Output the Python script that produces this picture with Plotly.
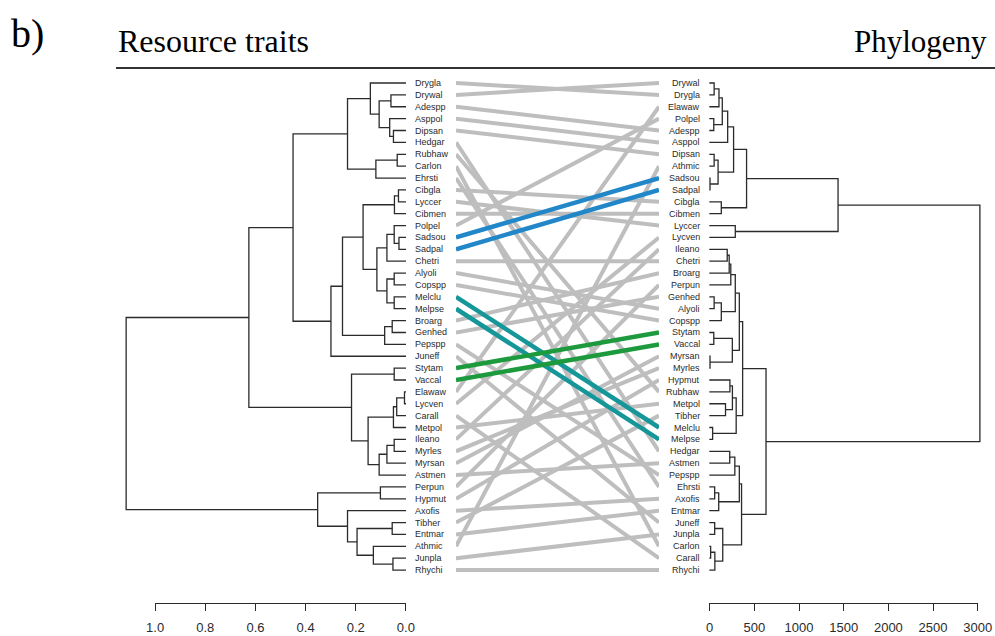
import plotly.graph_objects as go

W, H = 995, 636
# horizontal placement: the drawing area starts at OX and is FIG_W pixels wide
OX, FIG_W = 8, 972

# Tip order of each tree (top to bottom)
LEFT_ORDER = [
    "Drygla", "Drywal", "Adespp", "Asppol", "Dipsan", "Hedgar", "Rubhaw", "Carlon",
    "Ehrsti", "Cibgla", "Lyccer", "Cibmen", "Polpel", "Sadsou", "Sadpal", "Chetri",
    "Alyoli", "Copspp", "Melclu", "Melpse", "Broarg", "Genhed", "Pepspp", "Juneff",
    "Stytam", "Vaccal", "Elawaw", "Lycven", "Carall", "Metpol", "Ileano", "Myrles",
    "Myrsan", "Astmen", "Perpun", "Hypmut", "Axofis", "Tibher", "Entmar", "Athmic",
    "Junpla", "Rhychi",
]
RIGHT_ORDER = [
    "Drywal", "Drygla", "Elawaw", "Polpel", "Adespp", "Asppol", "Dipsan", "Athmic",
    "Sadsou", "Sadpal", "Cibgla", "Cibmen", "Lyccer", "Lycven", "Ileano", "Chetri",
    "Broarg", "Perpun", "Genhed", "Alyoli", "Copspp", "Stytam", "Vaccal", "Myrsan",
    "Myrles", "Hypmut", "Rubhaw", "Metpol", "Tibher", "Melclu", "Melpse", "Hedgar",
    "Astmen", "Pepspp", "Ehrsti", "Axofis", "Entmar", "Juneff", "Junpla", "Carlon",
    "Carall", "Rhychi",
]

# Merge lists: (child a, child b, height); integers refer to earlier merges
LEFT_MERGES = [
    ("Dipsan", "Hedgar", 0.050), ("Asppol", 0, 0.065), ("Drywal", "Adespp", 0.060),
    (2, 1, 0.107), ("Drygla", 3, 0.142), ("Rubhaw", "Carlon", 0.035), (5, "Ehrsti", 0.120),
    (4, 6, 0.233), ("Cibgla", "Lyccer", 0.030), (8, "Cibmen", 0.046),
    ("Sadsou", "Sadpal", 0.028), ("Polpel", 10, 0.047), (11, "Chetri", 0.076),
    ("Alyoli", "Copspp", 0.047), ("Melclu", "Melpse", 0.047), (13, 14, 0.076),
    (12, 15, 0.116), (9, 16, 0.171), ("Broarg", "Genhed", 0.055), (18, "Pepspp", 0.085),
    (17, 19, 0.253), (20, "Juneff", 0.299), (7, 21, 0.450), ("Stytam", "Vaccal", 0.047),
    ("Elawaw", "Lycven", 0.006), (24, "Carall", 0.037), (25, "Metpol", 0.050),
    ("Ileano", "Myrles", 0.047), (27, "Myrsan", 0.076), (28, "Astmen", 0.107),
    (26, 29, 0.151), (23, 30, 0.217), (22, 31, 0.626), ("Perpun", "Hypmut", 0.102),
    ("Tibher", "Entmar", 0.055), ("Junpla", "Rhychi", 0.052), ("Athmic", 35, 0.130),
    (34, 36, 0.195), ("Axofis", 37, 0.233), (33, 38, 0.352), (32, 39, 1.115),
]
RIGHT_MERGES = [
    ("Drywal", "Drygla", 54), (0, "Elawaw", 108), ("Polpel", "Adespp", 50), (1, 2, 145),
    (3, "Asppol", 205), ("Dipsan", "Athmic", 54), ("Sadsou", "Sadpal", 8), (5, 6, 98),
    (4, 7, 271), ("Cibgla", "Cibmen", 134), (8, 9, 416), ("Lyccer", "Lycven", 290),
    (10, 11, 1437), ("Ileano", "Chetri", 200), (13, "Broarg", 222), (14, "Perpun", 240),
    ("Genhed", "Alyoli", 54), (16, "Copspp", 134), (15, 17, 290), ("Stytam", "Vaccal", 50),
    ("Myrsan", "Myrles", 8), (19, 20, 257), (18, 21, 335), ("Hypmut", "Rubhaw", 230),
    ("Metpol", "Tibher", 181), (23, 24, 258), ("Melclu", "Melpse", 37), (25, 26, 300),
    (22, 27, 372), ("Hedgar", "Astmen", 228), (29, "Pepspp", 285), ("Ehrsti", "Axofis", 60),
    (31, "Entmar", 105), (30, 32, 335), ("Juneff", "Junpla", 60), ("Carlon", "Carall", 15),
    (35, "Rhychi", 62), (34, 36, 150), (33, 37, 360), (28, 38, 633), (12, 39, 3020),
]

# Shared clades highlighted in the connecting lines
HIGHLIGHT = {
    "Sadsou": "#2187c9", "Sadpal": "#2187c9",
    "Melclu": "#15979a", "Melpse": "#15979a",
    "Stytam": "#1e9a3e", "Vaccal": "#1e9a3e",
}

LEFT_TICKS = [1.0, 0.8, 0.6, 0.4, 0.2, 0.0]
RIGHT_TICKS = [0, 500, 1000, 1500, 2000, 2500, 3000]

INK = "#2b2b2b"
GRAY = "#bebebe"
SANS = "Liberation Sans, Arial, sans-serif"
SERIF = "Liberation Serif, Times New Roman, serif"

# pixel scales of the two dendrograms
L_ZERO, L_PER_UNIT = 405.0, 251.0      # resource-trait distance
R_ZERO, R_PER_UNIT = 708.3, 0.0896     # phylogenetic distance
ROW0, ROW_STEP = 83.0, 11.88           # tip rows


def px(x):
    return (x - OX) / FIG_W


def py(y):
    return 1 - y / H


def dendro_path(order, merges):
    leaves = {name: (0.0, float(i)) for i, name in enumerate(order)}
    nodes, xs, ys = [], [], []
    for a, b, h in merges:
        pa = nodes[a] if isinstance(a, int) else leaves[a]
        pb = nodes[b] if isinstance(b, int) else leaves[b]
        xs += [pa[0], h, h, pb[0], None]
        ys += [pa[1], pa[1], pb[1], pb[1], None]
        nodes.append((h, (pa[1] + pb[1]) / 2))
    return xs, ys


fig = go.Figure()

# connecting lines: gray first, highlighted clades on top
gx, gy = [], []
for i, name in enumerate(LEFT_ORDER):
    if name in HIGHLIGHT:
        continue
    gx += [0, 1, None]
    gy += [i, RIGHT_ORDER.index(name), None]
fig.add_trace(go.Scatter(x=gx, y=gy, mode="lines", xaxis="x3", yaxis="y",
                         line=dict(color=GRAY, width=4), hoverinfo="skip"))
for i, name in enumerate(LEFT_ORDER):
    if name in HIGHLIGHT:
        fig.add_trace(go.Scatter(x=[0, 1], y=[i, RIGHT_ORDER.index(name)], mode="lines",
                                 xaxis="x3", yaxis="y",
                                 line=dict(color=HIGHLIGHT[name], width=4.5),
                                 hoverinfo="skip"))

lx, ly = dendro_path(LEFT_ORDER, LEFT_MERGES)
fig.add_trace(go.Scatter(x=lx, y=ly, mode="lines", xaxis="x", yaxis="y",
                         line=dict(color=INK, width=1.3), hoverinfo="skip"))
rx, ry = dendro_path(RIGHT_ORDER, RIGHT_MERGES)
fig.add_trace(go.Scatter(x=rx, y=ry, mode="lines", xaxis="x2", yaxis="y",
                         line=dict(color=INK, width=1.3), hoverinfo="skip"))

# carriers for the two scale axes
fig.add_trace(go.Scatter(x=[LEFT_TICKS[0], LEFT_TICKS[-1]], y=[0, 0], xaxis="x4", yaxis="y",
                         mode="markers", marker=dict(opacity=0), hoverinfo="skip"))
fig.add_trace(go.Scatter(x=[RIGHT_TICKS[0], RIGHT_TICKS[-1]], y=[0, 0], xaxis="x5", yaxis="y",
                         mode="markers", marker=dict(opacity=0), hoverinfo="skip"))

annotations = []
for i, name in enumerate(LEFT_ORDER):
    annotations.append(dict(x=0, y=i, xref="x", yref="y", text=name, showarrow=False,
                            xanchor="left", yanchor="middle", xshift=7,
                            font=dict(family=SANS, size=9, color=INK)))
for i, name in enumerate(RIGHT_ORDER):
    annotations.append(dict(x=0, y=i, xref="x2", yref="y", text=name, showarrow=False,
                            xanchor="right", yanchor="middle", xshift=-7,
                            font=dict(family=SANS, size=9, color=INK)))
annotations += [
    dict(x=px(8), y=py(34), xref="paper", yref="paper", text="b)", showarrow=False,
         xanchor="left", yanchor="middle", font=dict(family=SERIF, size=40, color="black")),
    dict(x=px(115), y=py(41), xref="paper", yref="paper", text="Resource traits",
         showarrow=False, xanchor="left", yanchor="middle",
         font=dict(family=SERIF, size=32, color="black")),
    dict(x=px(988), y=py(41), xref="paper", yref="paper", text="Phylogeny",
         showarrow=False, xanchor="right", yanchor="middle",
         font=dict(family=SERIF, size=31, color="black")),
]

hidden = dict(visible=False, showgrid=False, zeroline=False)
scale_axis = dict(showline=True, linecolor=INK, linewidth=1, ticks="outside", ticklen=7,
                  tickwidth=1, tickcolor=INK, showgrid=False, zeroline=False,
                  anchor="free", position=py(603), ticklabelstandoff=5,
                  ticklabeloverflow="allow",
                  tickfont=dict(family=SANS, size=13, color=INK))

right_end = OX + FIG_W
fig.update_layout(
    width=W, height=H, margin=dict(l=0, r=0, t=0, b=0),
    paper_bgcolor="white", plot_bgcolor="rgba(0,0,0,0)", showlegend=False,
    xaxis=dict(domain=[px(118), px(L_ZERO)], range=[(L_ZERO - 118) / L_PER_UNIT, 0],
               **hidden),
    xaxis2=dict(domain=[px(700), 1],
                range=[(700 - R_ZERO) / R_PER_UNIT, (right_end - R_ZERO) / R_PER_UNIT],
                **hidden),
    xaxis3=dict(domain=[px(455), px(658)], range=[0, 1], **hidden),
    xaxis4=dict(domain=[px(L_ZERO - L_PER_UNIT), px(L_ZERO)], range=[1.0005, -0.0005],
                tickvals=LEFT_TICKS, ticktext=[f"{t:.1f}" for t in LEFT_TICKS], **scale_axis),
    xaxis5=dict(domain=[px(R_ZERO), px(R_ZERO + 3000 * R_PER_UNIT)], range=[-4, 3004],
                tickvals=RIGHT_TICKS, ticktext=[str(t) for t in RIGHT_TICKS], **scale_axis),
    yaxis=dict(domain=[py(600), py(50)],
               range=[(600 - ROW0) / ROW_STEP, (50 - ROW0) / ROW_STEP], **hidden),
    annotations=annotations,
    shapes=[dict(type="line", xref="paper", yref="paper", x0=px(115), x1=px(995),
                 y0=py(68), y1=py(68), line=dict(color="#333333", width=1.8))],
)

fig.write_html("out.html")
